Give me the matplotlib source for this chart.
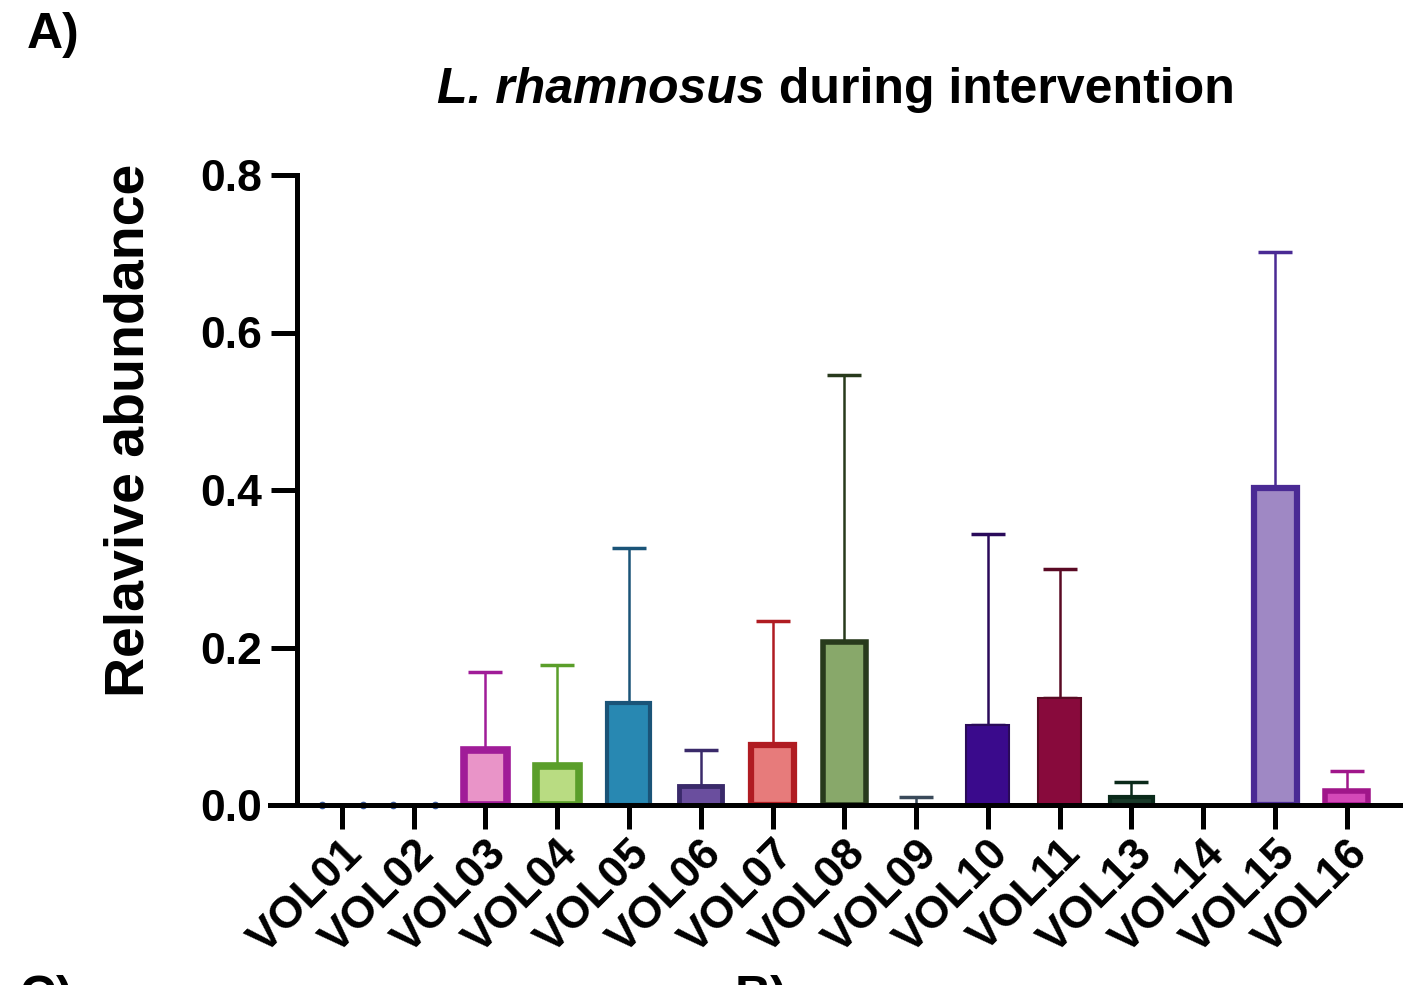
import numpy as np
import matplotlib
matplotlib.use("Agg")
from matplotlib import pyplot as plt

plt.rcParams["font.family"] = ["Liberation Sans", "DejaVu Sans"]

# data
volunteers = ["VOL01", "VOL02", "VOL03", "VOL04", "VOL05", "VOL06", "VOL07", "VOL08",
              "VOL09", "VOL10", "VOL11", "VOL13", "VOL14", "VOL15", "VOL16"]
mean_abundance = [0.0, 0.0, 0.070, 0.050, 0.130, 0.024, 0.076, 0.207,
                  0.0, 0.102, 0.136, 0.010, 0.0, 0.403, 0.018]
sd_upper = [0.0, 0.0, 0.099, 0.128, 0.196, 0.046, 0.158, 0.339,
            0.010, 0.242, 0.164, 0.019, 0.0, 0.299, 0.025]
show_error = [False, False, True, True, True, True, True, True,
              True, True, True, True, False, True, True]

fill_colors = ["#3a5a9a", "#3a5a9a", "#e994c8", "#b9dc82", "#2888b2", "#6a4e9e", "#e77b7b", "#88a86a",
               "#3a4a5a", "#3a0a8c", "#880a3c", "#1a3a2a", "#ffffff", "#9f88c4", "#d448b8"]
edge_colors = ["#3a5a9a", "#3a5a9a", "#a01c98", "#5a9e2a", "#1a5478", "#3a2a6a", "#b01c22", "#283a1c",
               "#3a4a5a", "#2a0a5a", "#5a0a24", "#0a2a1a", "#ffffff", "#4a2a94", "#a0168a"]
edge_widths = [0, 0, 5.5, 5.5, 3.0, 3.5, 4.5, 4.0, 0, 1.5, 1.5, 3.0, 0, 4.5, 4.0]

FIG_W, FIG_H = 1411, 985


def main() -> None:
    fig = plt.figure(figsize=(FIG_W / 100, FIG_H / 100), dpi=100)
    ax = fig.add_axes([270 / FIG_W, 1 - 805 / FIG_H, 1130 / FIG_W, 630 / FIG_H])

    x = np.arange(len(volunteers))
    for i in range(len(volunteers)):
        if mean_abundance[i] > 0:
            ax.bar(x[i], mean_abundance[i], width=0.6, color=fill_colors[i],
                   edgecolor=edge_colors[i], linewidth=edge_widths[i], zorder=2)
        if show_error[i]:
            ax.errorbar(x[i], mean_abundance[i], yerr=[[0], [sd_upper[i]]], fmt="none",
                        ecolor=edge_colors[i], elinewidth=1.8, capsize=12, capthick=2.5,
                        zorder=1, clip_on=False)

    # zero-height bars of VOL01 and VOL02 appear as small dots
    for i in range(2):
        ax.plot([x[i] - 0.28, x[i] + 0.3], [mean_abundance[i], mean_abundance[i]], "o",
                color=fill_colors[i], markersize=4.5, zorder=3, clip_on=False)

    ax.set_xlim(-1.0, 14.74)
    ax.set_ylim(0, 0.8)
    ax.spines["left"].set_position(("data", -0.63))
    ax.spines["right"].set_visible(False)
    ax.spines["top"].set_visible(False)
    for side in ["left", "bottom"]:
        ax.spines[side].set_linewidth(3.6)
    ax.spines["bottom"].set_zorder(4)

    ax.set_yticks([0.0, 0.2, 0.4, 0.6, 0.8])
    ax.set_yticklabels(["0.0", "0.2", "0.4", "0.6", "0.8"])
    ax.set_xticks(x)
    ax.set_xticklabels(volunteers, rotation=45, ha="right", va="top", rotation_mode="anchor")
    ax.tick_params(axis="y", length=19, width=3.6, labelsize=32, pad=6)
    ax.tick_params(axis="x", length=17, width=3.6, labelsize=32, pad=3)
    for lbl in ax.get_xticklabels() + ax.get_yticklabels():
        lbl.set_fontweight("bold")

    fig.text(130 / FIG_W, 1 - 430 / FIG_H, "Relavive abundance", rotation=90,
             ha="center", va="center", fontsize=40, fontweight="bold")

    # title: italic species name followed by upright text, centred over the axes
    renderer = fig.canvas.get_renderer()
    title_y = 1 - 103 / FIG_H
    t1 = fig.text(0, title_y, "L. rhamnosus", ha="left", va="baseline",
                  fontsize=36, fontweight="bold", style="italic")
    t2 = fig.text(0, title_y, " during intervention", ha="left", va="baseline",
                  fontsize=36, fontweight="bold")
    w1 = t1.get_window_extent(renderer).width
    w2 = t2.get_window_extent(renderer).width
    x0 = 836 - (w1 + w2) / 2
    t1.set_x(x0 / FIG_W)
    t2.set_x((x0 + w1) / FIG_W)

    fig.text(27 / FIG_W, 1 - 35 / FIG_H, "A)", ha="left", va="center", fontsize=36, fontweight="bold")
    fig.text(20 / FIG_W, 1 - 975 / FIG_H, "C)", ha="left", va="top", fontsize=36, fontweight="bold")
    fig.text(735 / FIG_W, 1 - 975 / FIG_H, "B)", ha="left", va="top", fontsize=36, fontweight="bold")

    fig.savefig("out.png", dpi=100)


if __name__ == "__main__":
    main()
